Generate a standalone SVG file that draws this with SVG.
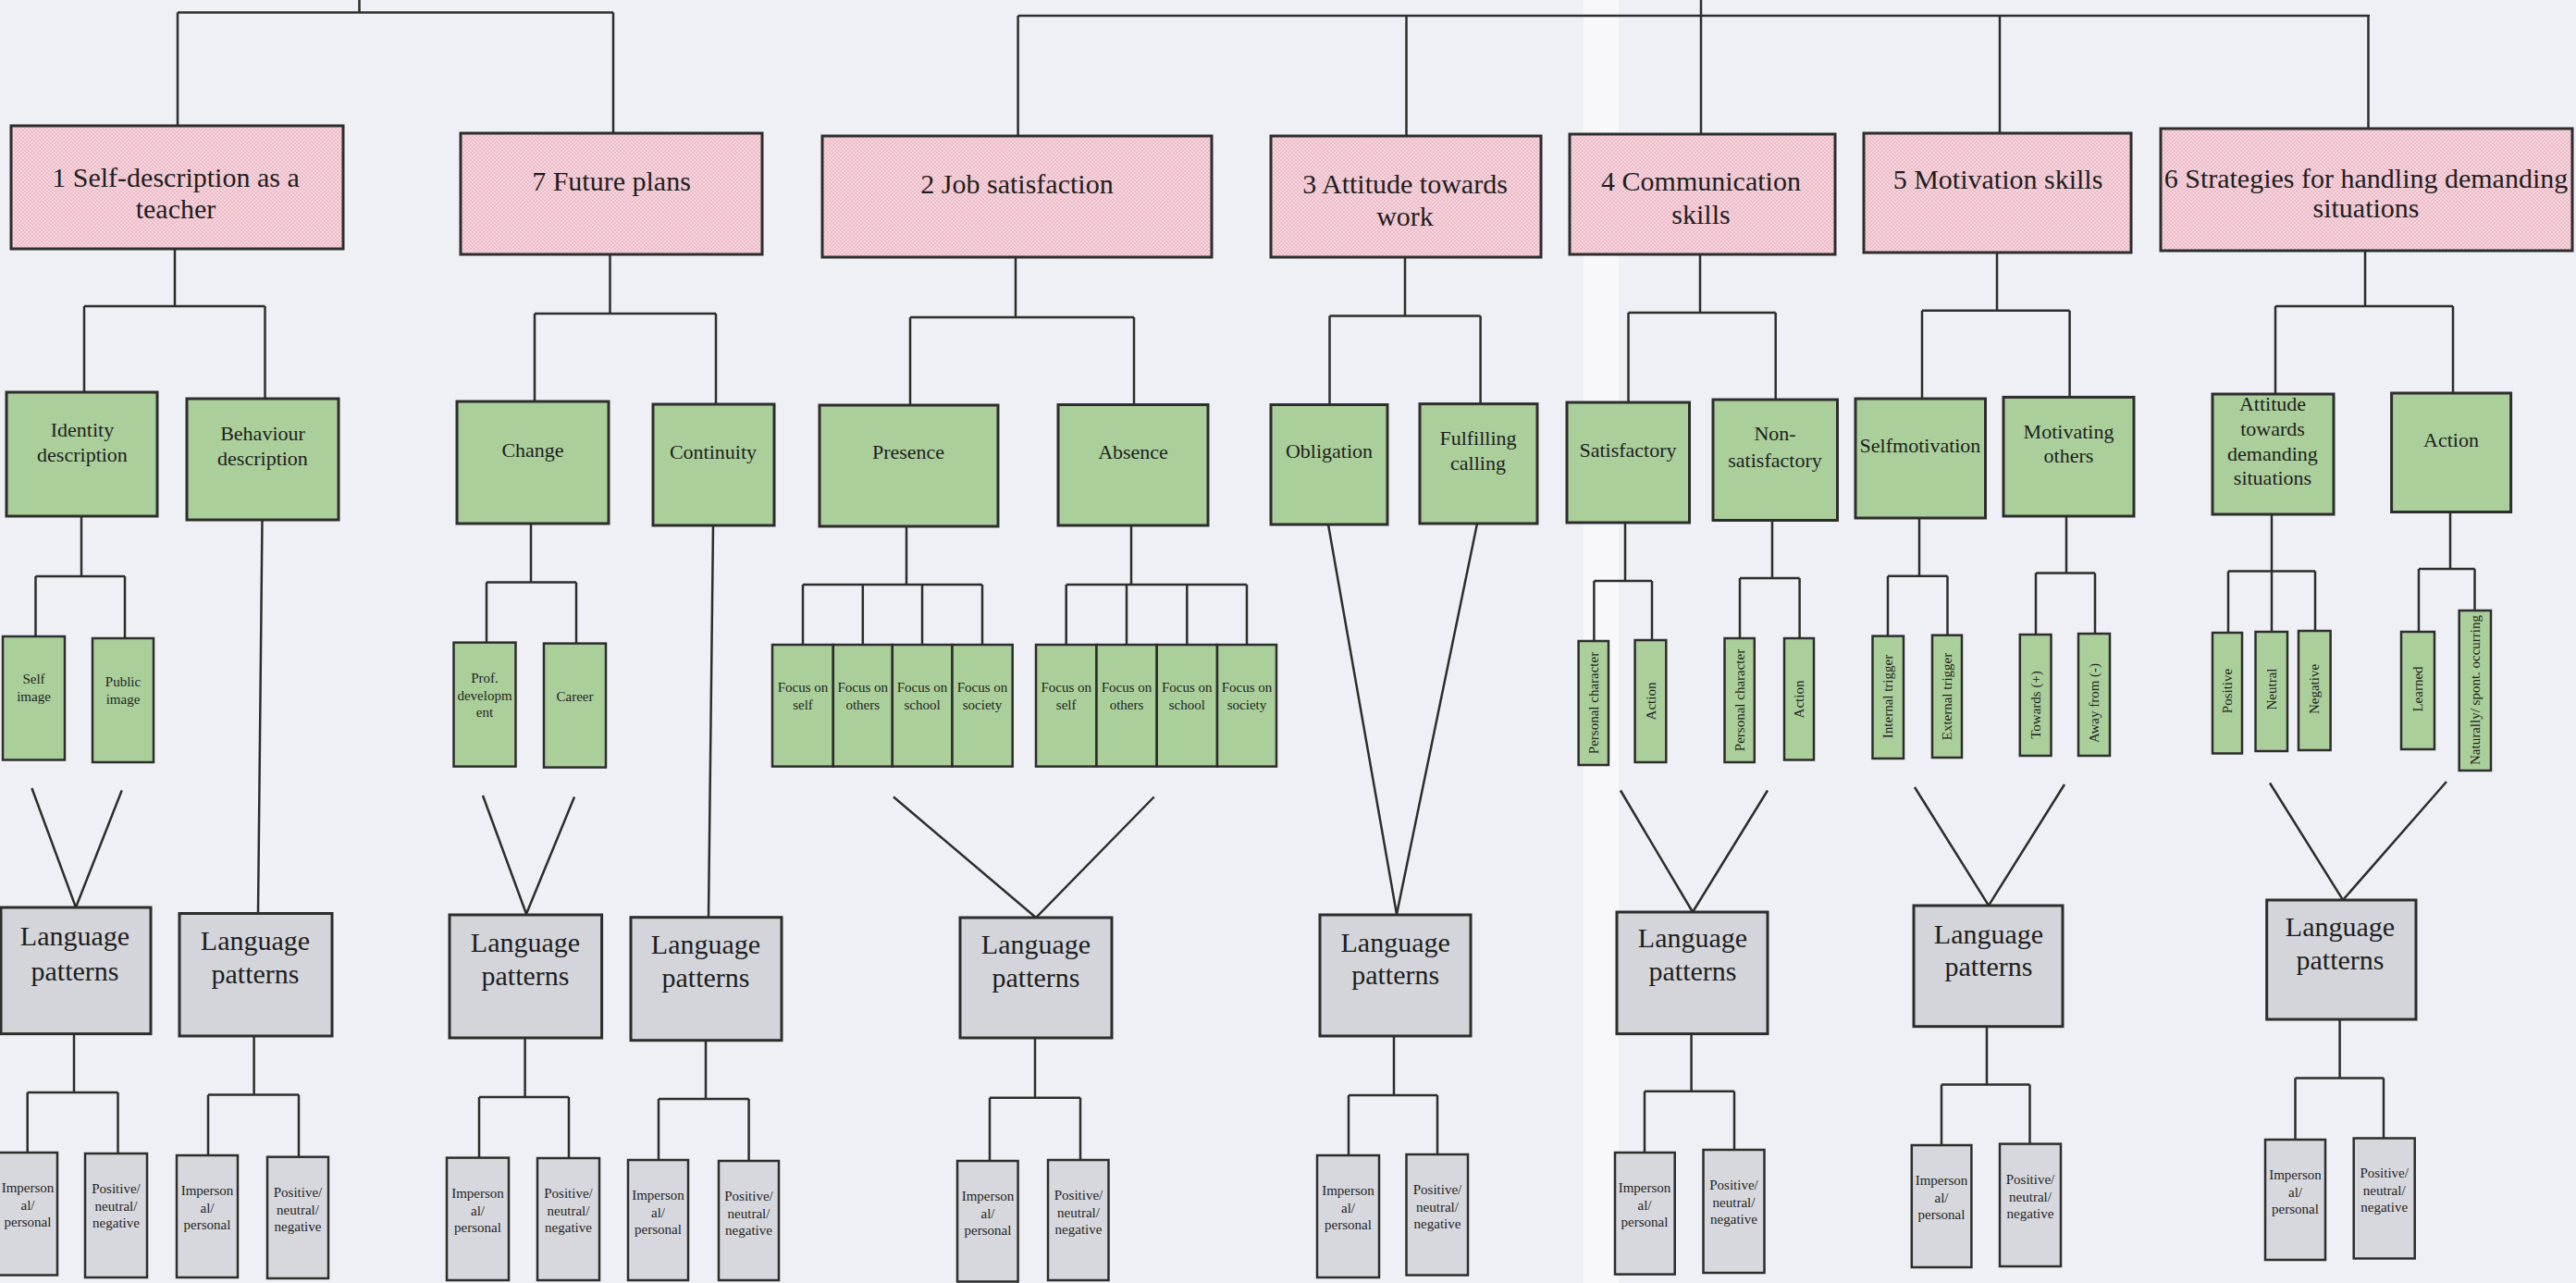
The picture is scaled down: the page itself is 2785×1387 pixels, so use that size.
<svg xmlns="http://www.w3.org/2000/svg" width="2785" height="1387" viewBox="0 0 2785 1387">
  <defs>
    <pattern id="pinkDots" width="4" height="4" patternUnits="userSpaceOnUse">
      <rect width="4" height="4" fill="#f6d6de"/>
      <circle cx="1" cy="1" r="0.8" fill="#e39aad"/>
      <circle cx="3" cy="3" r="0.8" fill="#e39aad"/>
    </pattern>
    <style>
      .bg { fill: #eff0f5; }
      .hdr { fill: url(#pinkDots); stroke: #2d2d2d; stroke-width: 3; }
      .mid { fill: #abcf9b; stroke: #2d2d2d; stroke-width: 3; }
      .sub { fill: #abcf9b; stroke: #2d2d2d; stroke-width: 2.5; }
      .lp { fill: #d3d5da; stroke: #2d2d2d; stroke-width: 3; }
      .leaf { fill: #d7d8dd; stroke: #2d2d2d; stroke-width: 2.5; }
      .wire { fill: none; stroke: #2d2d2d; stroke-width: 2.5; stroke-linejoin: miter; }
      text { font-family: "Liberation Serif", "Times New Roman", serif; fill: #1e1e1e; text-anchor: middle; }
      .t30 { font-size: 30px; }
      .t22 { font-size: 22px; }
      .t15 { font-size: 15px; }
    </style>
  </defs>

  <!-- page -->
  <rect class="bg" x="0" y="0" width="2785" height="1387"/>
  <rect x="1712" y="0" width="38" height="1387" fill="#f8f8fb"/>

  <!-- connectors -->
  <g id="connectors" class="wire">
    <!-- top brackets -->
    <path d="M388.5 0 V13.5 M192 13.5 H663 M192 13.5 V136 M663 13.5 V144"/>
    <path d="M1839 0 V145 M1100.6 17 H2562 M1100.6 17 V147 M1520.5 17 V147 M2162 17 V144 M2560.5 17 V139"/>
    <!-- header to second level -->
    <path d="M189 269 V331 M91 331 H286.5 M91 331 V424 M286.5 331 V431"/>
    <path d="M659.5 275 V339 M578 339 H774 M578 339 V434 M774 339 V437"/>
    <path d="M1098 278 V343 M984 343 H1226 M984 343 V438 M1226 343 V437.5"/>
    <path d="M1519 278 V341.5 M1437.5 341.5 H1600.6 M1437.5 341.5 V437.5 M1600.6 341.5 V436.6"/>
    <path d="M1838 274.5 V338 M1760.5 338 H1919.7 M1760.5 338 V435 M1919.7 338 V432"/>
    <path d="M2159 273 V335.7 M2078 335.7 H2237.6 M2078 335.7 V431 M2237.6 335.7 V429.4"/>
    <path d="M2557 271 V331 M2460 331 H2652 M2460 331 V426 M2652 331 V425"/>
    <!-- second level to third level -->
    <path d="M88 558 V623 M38.5 623 H135 M38.5 623 V688 M135 623 V690"/>
    <path d="M283.5 562 L279 987.5"/>
    <path d="M574 566 V629.5 M526 629.5 H623 M526 629.5 V694.6 M623 629.5 V695.6"/>
    <path d="M771 568 L766 991.7"/>
    <path d="M980 569 V632 M868 632 H1062 M868 632 V697 M932.8 632 V697 M997 632 V697 M1062 632 V697"/>
    <path d="M1223 568 V632 M1152.7 632 H1348 M1152.7 632 V697 M1218 632 V697 M1283.3 632 V697 M1348 632 V697"/>
    <path d="M1436 567 L1510 988.4 M1597 566 L1510 988.4"/>
    <path d="M1757 565 V628 M1723.4 628 H1786 M1723.4 628 V693 M1786 628 V692"/>
    <path d="M1916 562.5 V625 M1881 625 H1945.6 M1881 625 V690 M1945.6 625 V690"/>
    <path d="M2075 560 V622.7 M2041 622.7 H2105.5 M2041 622.7 V687.6 M2105.5 622.7 V686.7"/>
    <path d="M2234 558 V619.6 M2201 619.6 H2265 M2201 619.6 V686 M2265 619.6 V685"/>
    <path d="M2456 556 V617.4 M2409 617.4 H2503 M2409 617.4 V684 M2456 617.4 V683 M2503 617.4 V682"/>
    <path d="M2649 553.5 V615 M2615 615 H2675.5 M2615 615 V683 M2675.5 615 V660"/>
    <!-- funnels into language patterns -->
    <path d="M34.4 852 L82 981 L131.7 854.5"/>
    <path d="M522 860 L569 988 L621 861.5"/>
    <path d="M966 861.5 L1120 992 L1247.7 861.5"/>
    <path d="M1752 854.5 L1830 986 L1911 854.5"/>
    <path d="M2070 851 L2150 979 L2232 848"/>
    <path d="M2454 846.5 L2533 973 L2645 845"/>
    <!-- language patterns to leaves -->
    <path d="M80 1117.6 V1181 M29.7 1181 H127.5 M29.7 1181 V1246 M127.5 1181 V1247"/>
    <path d="M274.6 1120 V1183.5 M225 1183.5 H323 M225 1183.5 V1249 M323 1183.5 V1250.7"/>
    <path d="M567.6 1122 V1186 M518 1186 H615 M518 1186 V1251.6 M615 1186 V1252"/>
    <path d="M763 1124.7 V1188 M712 1188 H809.6 M712 1188 V1254 M809.6 1188 V1255"/>
    <path d="M1119 1122 V1186.7 M1070 1186.7 H1168 M1070 1186.7 V1255 M1168 1186.7 V1254"/>
    <path d="M1507 1120 V1184 M1458 1184 H1554 M1458 1184 V1249 M1554 1184 V1248"/>
    <path d="M1828.6 1117.6 V1179.7 M1778 1179.7 H1875 M1778 1179.7 V1246 M1875 1179.7 V1243"/>
    <path d="M2148 1109.7 V1172.6 M2099 1172.6 H2194.5 M2099 1172.6 V1238 M2194.5 1172.6 V1236.6"/>
    <path d="M2529.6 1102 V1165.6 M2481.5 1165.6 H2577 M2481.5 1165.6 V1232 M2577 1165.6 V1230.5"/>
  </g>

  <!-- category headers -->
  <g id="h1"><rect class="hdr" x="12" y="136" width="359" height="133"/><text class="t30" x="190" y="202">1 Self-description as a</text><text class="t30" x="190" y="236">teacher</text></g>
  <g id="h7"><rect class="hdr" x="498" y="144" width="326" height="131"/><text class="t30" x="661" y="206">7 Future plans</text></g>
  <g id="h2"><rect class="hdr" x="889" y="147" width="421" height="131"/><text class="t30" x="1099.5" y="208.6">2 Job satisfaction</text></g>
  <g id="h3"><rect class="hdr" x="1374" y="147" width="292" height="131"/><text class="t30" x="1519" y="208.6">3 Attitude towards</text><text class="t30" x="1519" y="244">work</text></g>
  <g id="h4"><rect class="hdr" x="1697" y="145" width="287" height="130"/><text class="t30" x="1839" y="206.4">4 Communication</text><text class="t30" x="1839" y="242">skills</text></g>
  <g id="h5"><rect class="hdr" x="2015" y="144" width="289" height="129"/><text class="t30" x="2160" y="204">5 Motivation skills</text></g>
  <g id="h6"><rect class="hdr" x="2336" y="139" width="445" height="132"/><text class="t30" x="2558" y="203">6 Strategies for handling demanding</text><text class="t30" x="2558" y="235.4">situations</text></g>

  <!-- second level -->
  <g id="identity"><rect class="mid" x="7" y="424" width="163" height="134"/><text class="t22" x="89" y="472">Identity</text><text class="t22" x="89" y="499">description</text></g>
  <g id="behaviour"><rect class="mid" x="202" y="431" width="164" height="131"/><text class="t22" x="284" y="476">Behaviour</text><text class="t22" x="284" y="502.5">description</text></g>
  <g id="change"><rect class="mid" x="494" y="434" width="164" height="132"/><text class="t22" x="576" y="493.6">Change</text></g>
  <g id="continuity"><rect class="mid" x="706" y="437" width="131" height="131"/><text class="t22" x="771" y="496">Continuity</text></g>
  <g id="presence"><rect class="mid" x="886" y="438" width="193" height="131"/><text class="t22" x="982" y="496">Presence</text></g>
  <g id="absence"><rect class="mid" x="1144" y="437.5" width="162" height="130.5"/><text class="t22" x="1225" y="496">Absence</text></g>
  <g id="obligation"><rect class="mid" x="1374" y="437.5" width="126" height="129.5"/><text class="t22" x="1437" y="495">Obligation</text></g>
  <g id="fulfilling"><rect class="mid" x="1535" y="436.6" width="127" height="129.4"/><text class="t22" x="1598" y="481">Fulfilling</text><text class="t22" x="1598" y="508">calling</text></g>
  <g id="satisfactory"><rect class="mid" x="1694" y="435" width="132.5" height="130"/><text class="t22" x="1760" y="493.6">Satisfactory</text></g>
  <g id="non-satisfactory"><rect class="mid" x="1852" y="432" width="134.5" height="130.5"/><text class="t22" x="1919" y="475.7">Non-</text><text class="t22" x="1919" y="504.7">satisfactory</text></g>
  <g id="selfmotivation"><rect class="mid" x="2006" y="431" width="140.5" height="129"/><text class="t22" x="2076" y="489">Selfmotivation</text></g>
  <g id="motivating-others"><rect class="mid" x="2166" y="429.4" width="141" height="128.6"/><text class="t22" x="2236.5" y="474.4">Motivating</text><text class="t22" x="2236.5" y="500.3">others</text></g>
  <g id="attitude-demanding"><rect class="mid" x="2392" y="426" width="131" height="130"/><text class="t22" x="2457" y="443.6">Attitude</text><text class="t22" x="2457" y="471">towards</text><text class="t22" x="2457" y="498">demanding</text><text class="t22" x="2457" y="524">situations</text></g>
  <g id="action"><rect class="mid" x="2585.6" y="425" width="129" height="128.5"/><text class="t22" x="2650" y="483.3">Action</text></g>

  <!-- third level, upright labels -->
  <g id="self-image"><rect class="sub" x="3" y="688" width="67" height="133.5"/><text class="t15" x="36.5" y="738.7">Self</text><text class="t15" x="36.5" y="757.5">image</text></g>
  <g id="public-image"><rect class="sub" x="100" y="690" width="66" height="134"/><text class="t15" x="133" y="742">Public</text><text class="t15" x="133" y="761">image</text></g>
  <g id="prof-development"><rect class="sub" x="490.5" y="694.6" width="67" height="134"/><text class="t15" x="524" y="737.7">Prof.</text><text class="t15" x="524" y="756.5">developm</text><text class="t15" x="524" y="775">ent</text></g>
  <g id="career"><rect class="sub" x="588" y="695.6" width="67" height="134"/><text class="t15" x="621.5" y="757.5">Career</text></g>

  <g id="p-self"><rect class="sub" x="835" y="697" width="65.8" height="131.6"/><text class="t15" x="868" y="748">Focus on</text><text class="t15" x="868" y="767">self</text></g>
  <g id="p-others"><rect class="sub" x="900.8" y="697" width="64" height="131.6"/><text class="t15" x="932.8" y="748">Focus on</text><text class="t15" x="932.8" y="767">others</text></g>
  <g id="p-school"><rect class="sub" x="964.8" y="697" width="64.7" height="131.6"/><text class="t15" x="997" y="748">Focus on</text><text class="t15" x="997" y="767">school</text></g>
  <g id="p-society"><rect class="sub" x="1029.5" y="697" width="65.2" height="131.6"/><text class="t15" x="1062" y="748">Focus on</text><text class="t15" x="1062" y="767">society</text></g>

  <g id="a-self"><rect class="sub" x="1120" y="697" width="65.5" height="131.6"/><text class="t15" x="1152.7" y="748">Focus on</text><text class="t15" x="1152.7" y="767">self</text></g>
  <g id="a-others"><rect class="sub" x="1185.5" y="697" width="65.2" height="131.6"/><text class="t15" x="1218" y="748">Focus on</text><text class="t15" x="1218" y="767">others</text></g>
  <g id="a-school"><rect class="sub" x="1250.7" y="697" width="65.3" height="131.6"/><text class="t15" x="1283.3" y="748">Focus on</text><text class="t15" x="1283.3" y="767">school</text></g>
  <g id="a-society"><rect class="sub" x="1316" y="697" width="64" height="131.6"/><text class="t15" x="1348" y="748">Focus on</text><text class="t15" x="1348" y="767">society</text></g>

  <!-- third level, rotated labels -->
  <g id="sat-character"><rect class="sub" x="1706.6" y="693" width="32.4" height="134"/><text class="t15" transform="translate(1723 760) rotate(-90)" y="5">Personal character</text></g>
  <g id="sat-action"><rect class="sub" x="1767.6" y="692" width="33.7" height="132"/><text class="t15" transform="translate(1784.5 758) rotate(-90)" y="5">Action</text></g>
  <g id="non-character"><rect class="sub" x="1864.5" y="690" width="32.3" height="134"/><text class="t15" transform="translate(1880.6 757) rotate(-90)" y="5">Personal character</text></g>
  <g id="non-action"><rect class="sub" x="1929" y="690" width="32" height="131.5"/><text class="t15" transform="translate(1945 756) rotate(-90)" y="5">Action</text></g>
  <g id="internal-trigger"><rect class="sub" x="2024.5" y="687.6" width="33.5" height="132.4"/><text class="t15" transform="translate(2041 753) rotate(-90)" y="5">Internal trigger</text></g>
  <g id="external-trigger"><rect class="sub" x="2089" y="686.7" width="32" height="132.3"/><text class="t15" transform="translate(2105 753) rotate(-90)" y="5">External trigger</text></g>
  <g id="towards"><rect class="sub" x="2183.8" y="686" width="33.7" height="131"/><text class="t15" transform="translate(2200.6 762) rotate(-90)" y="5">Towards (+)</text></g>
  <g id="away-from"><rect class="sub" x="2247" y="685" width="34" height="132"/><text class="t15" transform="translate(2264 760) rotate(-90)" y="5">Away from (-)</text></g>
  <g id="positive"><rect class="sub" x="2392" y="684" width="32" height="130.5"/><text class="t15" transform="translate(2408 747) rotate(-90)" y="5">Positive</text></g>
  <g id="neutral"><rect class="sub" x="2438.5" y="683" width="34.5" height="129"/><text class="t15" transform="translate(2455.7 745) rotate(-90)" y="5">Neutral</text></g>
  <g id="negative"><rect class="sub" x="2485" y="682" width="34.6" height="129"/><text class="t15" transform="translate(2502 745) rotate(-90)" y="5">Negative</text></g>
  <g id="learned"><rect class="sub" x="2596" y="683" width="36" height="127"/><text class="t15" transform="translate(2614 745) rotate(-90)" y="5">Learned</text></g>
  <g id="naturally"><rect class="sub" x="2658.7" y="660" width="34.3" height="173"/><text class="t15" transform="translate(2676 746) rotate(-90)" y="5">Naturally/ spont. occurring</text></g>

  <!-- language patterns -->
  <g id="lp1"><rect class="lp" x="1" y="981" width="162" height="136.6"/><text class="t30" x="81" y="1022">Language</text><text class="t30" x="81" y="1059.5">patterns</text></g>
  <g id="lp2"><rect class="lp" x="194" y="987.5" width="165" height="132.5"/><text class="t30" x="276" y="1026.6">Language</text><text class="t30" x="276" y="1063">patterns</text></g>
  <g id="lp3"><rect class="lp" x="486" y="989" width="164.6" height="133"/><text class="t30" x="568" y="1029">Language</text><text class="t30" x="568" y="1065">patterns</text></g>
  <g id="lp4"><rect class="lp" x="682" y="991.7" width="163" height="133"/><text class="t30" x="763" y="1031">Language</text><text class="t30" x="763" y="1067">patterns</text></g>
  <g id="lp5"><rect class="lp" x="1038" y="992" width="164" height="130"/><text class="t30" x="1120" y="1031">Language</text><text class="t30" x="1120" y="1066.5">patterns</text></g>
  <g id="lp6"><rect class="lp" x="1427" y="989" width="163" height="131"/><text class="t30" x="1508.7" y="1029">Language</text><text class="t30" x="1508.7" y="1064">patterns</text></g>
  <g id="lp7"><rect class="lp" x="1748" y="986" width="163" height="131.6"/><text class="t30" x="1830" y="1024">Language</text><text class="t30" x="1830" y="1059.5">patterns</text></g>
  <g id="lp8"><rect class="lp" x="2069" y="979" width="161" height="130.7"/><text class="t30" x="2150" y="1019.6">Language</text><text class="t30" x="2150" y="1054.8">patterns</text></g>
  <g id="lp9"><rect class="lp" x="2450.7" y="973" width="161.3" height="129"/><text class="t30" x="2530" y="1011.6">Language</text><text class="t30" x="2530" y="1047.8">patterns</text></g>

  <!-- leaves -->
  <g id="l1a"><rect class="leaf" x="-2" y="1246" width="64" height="132.5"/><text class="t15" x="30" y="1289">Imperson</text><text class="t15" x="30" y="1308">al/</text><text class="t15" x="30" y="1326">personal</text></g>
  <g id="l1b"><rect class="leaf" x="92" y="1247" width="67" height="134"/><text class="t15" x="125.5" y="1290">Positive/</text><text class="t15" x="125.5" y="1309">neutral/</text><text class="t15" x="125.5" y="1327">negative</text></g>
  <g id="l2a"><rect class="leaf" x="191" y="1249" width="66" height="132"/><text class="t15" x="224" y="1292">Imperson</text><text class="t15" x="224" y="1311">al/</text><text class="t15" x="224" y="1329">personal</text></g>
  <g id="l2b"><rect class="leaf" x="289" y="1250.7" width="66" height="131.3"/><text class="t15" x="322" y="1294">Positive/</text><text class="t15" x="322" y="1313">neutral/</text><text class="t15" x="322" y="1331">negative</text></g>
  <g id="l3a"><rect class="leaf" x="483" y="1251.6" width="67" height="132.4"/><text class="t15" x="516.5" y="1295">Imperson</text><text class="t15" x="516.5" y="1314">al/</text><text class="t15" x="516.5" y="1332">personal</text></g>
  <g id="l3b"><rect class="leaf" x="581" y="1252" width="67" height="132"/><text class="t15" x="614.5" y="1295">Positive/</text><text class="t15" x="614.5" y="1314">neutral/</text><text class="t15" x="614.5" y="1332">negative</text></g>
  <g id="l4a"><rect class="leaf" x="679" y="1254" width="65" height="130"/><text class="t15" x="711.5" y="1297">Imperson</text><text class="t15" x="711.5" y="1316">al/</text><text class="t15" x="711.5" y="1334">personal</text></g>
  <g id="l4b"><rect class="leaf" x="777" y="1255" width="65" height="129"/><text class="t15" x="809.5" y="1298">Positive/</text><text class="t15" x="809.5" y="1317">neutral/</text><text class="t15" x="809.5" y="1335">negative</text></g>
  <g id="l5a"><rect class="leaf" x="1035" y="1255" width="65.6" height="130.5"/><text class="t15" x="1068" y="1298">Imperson</text><text class="t15" x="1068" y="1317">al/</text><text class="t15" x="1068" y="1335">personal</text></g>
  <g id="l5b"><rect class="leaf" x="1133" y="1254" width="65.5" height="130"/><text class="t15" x="1166" y="1297">Positive/</text><text class="t15" x="1166" y="1316">neutral/</text><text class="t15" x="1166" y="1334">negative</text></g>
  <g id="l6a"><rect class="leaf" x="1424" y="1249" width="67" height="132"/><text class="t15" x="1457.5" y="1292">Imperson</text><text class="t15" x="1457.5" y="1311">al/</text><text class="t15" x="1457.5" y="1329">personal</text></g>
  <g id="l6b"><rect class="leaf" x="1520.5" y="1248" width="66.5" height="130.5"/><text class="t15" x="1554" y="1291">Positive/</text><text class="t15" x="1554" y="1310">neutral/</text><text class="t15" x="1554" y="1328">negative</text></g>
  <g id="l7a"><rect class="leaf" x="1746" y="1246" width="64.7" height="131.6"/><text class="t15" x="1778" y="1289">Imperson</text><text class="t15" x="1778" y="1308">al/</text><text class="t15" x="1778" y="1326">personal</text></g>
  <g id="l7b"><rect class="leaf" x="1841.5" y="1243" width="66" height="133"/><text class="t15" x="1874.5" y="1286">Positive/</text><text class="t15" x="1874.5" y="1305">neutral/</text><text class="t15" x="1874.5" y="1323">negative</text></g>
  <g id="l8a"><rect class="leaf" x="2066.8" y="1238" width="64.6" height="132"/><text class="t15" x="2099" y="1281">Imperson</text><text class="t15" x="2099" y="1300">al/</text><text class="t15" x="2099" y="1318">personal</text></g>
  <g id="l8b"><rect class="leaf" x="2162" y="1236.6" width="66" height="132.4"/><text class="t15" x="2195" y="1280">Positive/</text><text class="t15" x="2195" y="1299">neutral/</text><text class="t15" x="2195" y="1317">negative</text></g>
  <g id="l9a"><rect class="leaf" x="2449" y="1232" width="65" height="130"/><text class="t15" x="2481.5" y="1275">Imperson</text><text class="t15" x="2481.5" y="1294">al/</text><text class="t15" x="2481.5" y="1312">personal</text></g>
  <g id="l9b"><rect class="leaf" x="2544.7" y="1230.5" width="66" height="130"/><text class="t15" x="2577.7" y="1273">Positive/</text><text class="t15" x="2577.7" y="1292">neutral/</text><text class="t15" x="2577.7" y="1310">negative</text></g>
</svg>
